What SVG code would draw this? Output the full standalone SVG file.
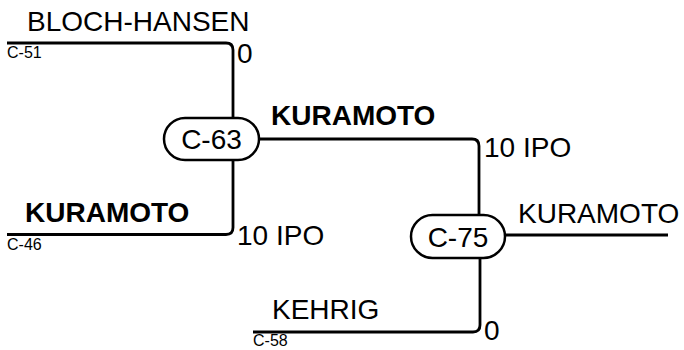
<svg xmlns="http://www.w3.org/2000/svg" width="684" height="350" viewBox="0 0 684 350">
<style>
.ln{fill:none;stroke:#000;stroke-width:2.8}
.nd{fill:#fff;stroke:#000;stroke-width:2.5}
.t{font-family:"Liberation Sans",Arial,sans-serif;font-size:28px;fill:#000}
.b{font-weight:bold}
.s{font-family:"Liberation Sans",Arial,sans-serif;font-size:16px;fill:#000}
</style>
<rect width="684" height="350" fill="#fff"/>
<g id="connectors">
<path class="ln" d="M7,43 H226 Q233,43 233,50 V118"/>
<path class="ln" d="M7,234.5 H226 Q233,234.5 233,227.5 V160"/>
<path class="ln" d="M259,139 H472 Q479,139 479,146 V215"/>
<path class="ln" d="M505,235 H668"/>
<path class="ln" d="M253,332 H473 Q480,332 480,325 V258"/>
</g>
<g id="leaf-bloch">
<text class="t" x="27" y="31">BLOCH-HANSEN</text>
<text class="s" x="7" y="58">C-51</text>
<text class="t" x="237" y="63">0</text>
</g>
<g id="leaf-kuramoto46">
<text class="t b" x="25" y="222">KURAMOTO</text>
<text class="s" x="7" y="250">C-46</text>
<text class="t" x="237" y="245">10 IPO</text>
</g>
<g id="node-c63">
<rect class="nd" x="164" y="118" width="95" height="42" rx="21" ry="21"/>
<text class="t" x="211.5" y="149" text-anchor="middle">C-63</text>
<text class="t b" x="271" y="125">KURAMOTO</text>
<text class="t" x="484" y="157">10 IPO</text>
</g>
<g id="leaf-kehrig">
<text class="t" x="272" y="319">KEHRIG</text>
<text class="s" x="253" y="346">C-58</text>
<text class="t" x="484" y="340">0</text>
</g>
<g id="node-c75">
<rect class="nd" x="411" y="215" width="94" height="43" rx="21.5" ry="21.5"/>
<text class="t" x="458" y="246.5" text-anchor="middle">C-75</text>
<text class="t" x="518" y="223">KURAMOTO</text>
</g>
</svg>
